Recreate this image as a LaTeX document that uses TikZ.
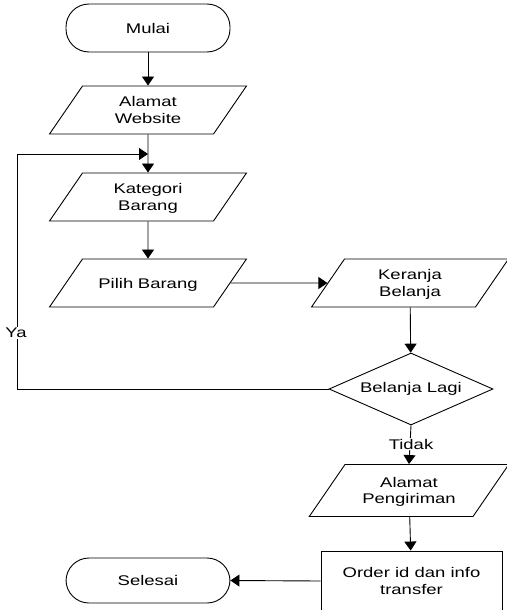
\documentclass[tikz,border=0pt]{standalone}
\usepackage{fontspec}
\setmainfont[FakeStretch=1.32]{Liberation Sans}
\usetikzlibrary{shapes.geometric,arrows.meta}

\begin{document}
\begin{tikzpicture}[x=1pt,y=-1pt,line width=0.9pt,
    every node/.style={font=\fontsize{14}{16.5}\selectfont,align=center},
    terminal/.style={draw,rounded corners=23pt,minimum width=164pt,minimum height=48pt},
    io/.style={draw,trapezium,trapezium left angle=55.5,trapezium right angle=124.5,
        text width=131pt,text height=20.75pt,text depth=27.25pt,inner sep=0pt},
    satubaris/.style={text height=29pt,text depth=19pt},
    proses/.style={draw,rectangle,minimum width=181pt,minimum height=60pt},
    keputusan/.style={draw,diamond,aspect=2.3,minimum width=164pt,minimum height=72pt,inner sep=0pt},
    label/.style={fill=white,inner sep=1pt},
    arr/.style={-{Triangle[length=9pt,width=12pt]}}]
    \useasboundingbox (0,0) rectangle (506,610);

    \node[terminal] (mulai) at (148,28) {Mulai};
    \node[io] (web) at (148,110) {Alamat\\Website};
    \node[io] (kat) at (148,197) {Kategori\\Barang};
    \node[io,satubaris] (pilih) at (148,283) {Pilih Barang};
    \node[io] (keranjang) at (410,283) {Keranja\\Belanja};
    \node[keputusan] (lagi) at (411,389) {Belanja Lagi};
    \node[io,text width=128pt,text height=22.75pt,text depth=29.25pt] (kirim) at (409,490.5) {Alamat\\Pengiriman};
    \node[proses] (order) at (411.5,581) {Order id dan info\\transfer};
    \node[terminal,minimum height=45pt] (selesai) at (148,580.5) {Selesai};

    \coordinate (gabung) at (148,154);
    \coordinate (belok) at (17,154);

    \draw[arr] (mulai) -- (web);
    \draw[arr] (web) -- (kat);
    \draw[arr] (kat) -- (pilih);
    \draw[arr] (pilih.east) -- (keranjang.west);
    \draw[arr] (keranjang) -- (lagi);
    \draw[arr] (lagi.west) -| (belok) -- (gabung);
    \draw[arr] (lagi.south) -- (kirim.north);
    \draw[arr] (kirim) -- (order);
    \draw[arr] (order.west) -- (selesai.east);

    \node[label] at (16,333) {Ya};
    \node[label] at (411,444) {Tidak};
\end{tikzpicture}
\end{document}
